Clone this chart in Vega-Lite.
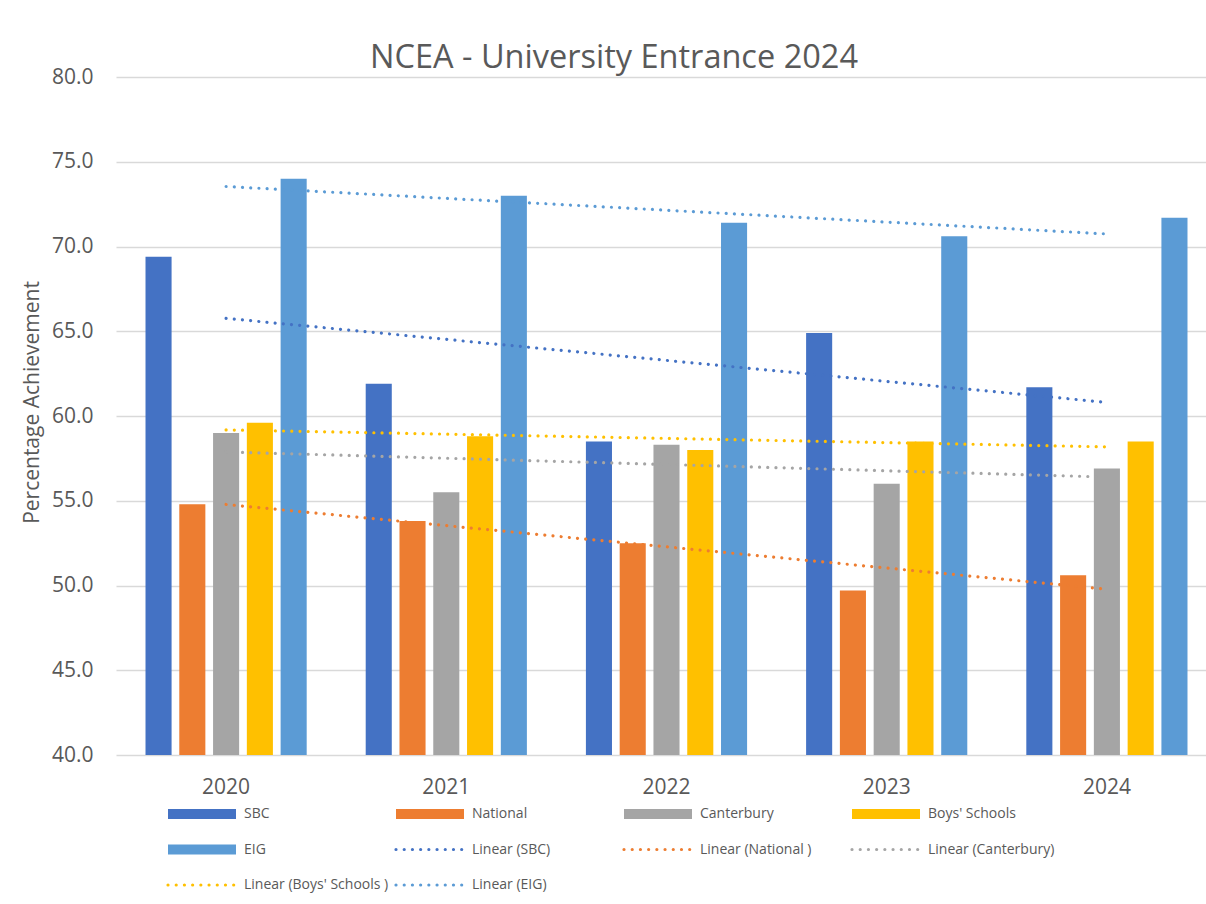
{
  "$schema": "https://vega.github.io/schema/vega-lite/v6.json",
  "width": 1090,
  "height": 678,
  "autosize": {"type": "none"},
  "padding": {"left": 116, "top": 77, "right": 0, "bottom": 149},
  "background": "white",
  "config": {
    "view": {"stroke": null},
    "font": "Open Sans",
    "axis": {"labelFont": "Open Sans", "titleFont": "Open Sans", "labelColor": "#595959", "titleColor": "#595959"}
  },
  "title": {
    "text": "NCEA - University Entrance 2024",
    "font": "Open Sans",
    "fontSize": 32.5,
    "fontWeight": "normal",
    "color": "#595959",
    "anchor": "middle",
    "baseline": "alphabetic",
    "offset": 8,
    "dx": -47,
    "dy": 42
  },
  "data": {
    "values": [
      {"year": 2020, "series": "SBC", "trend": "Linear (SBC)", "value": 69.4},
      {"year": 2020, "series": "National", "trend": "Linear (National )", "value": 54.8},
      {"year": 2020, "series": "Canterbury", "trend": "Linear (Canterbury)", "value": 59.0},
      {"year": 2020, "series": "Boys' Schools", "trend": "Linear (Boys' Schools )", "value": 59.6},
      {"year": 2020, "series": "EIG", "trend": "Linear (EIG)", "value": 74.0},
      {"year": 2021, "series": "SBC", "trend": "Linear (SBC)", "value": 61.9},
      {"year": 2021, "series": "National", "trend": "Linear (National )", "value": 53.8},
      {"year": 2021, "series": "Canterbury", "trend": "Linear (Canterbury)", "value": 55.5},
      {"year": 2021, "series": "Boys' Schools", "trend": "Linear (Boys' Schools )", "value": 58.8},
      {"year": 2021, "series": "EIG", "trend": "Linear (EIG)", "value": 73.0},
      {"year": 2022, "series": "SBC", "trend": "Linear (SBC)", "value": 58.5},
      {"year": 2022, "series": "National", "trend": "Linear (National )", "value": 52.5},
      {"year": 2022, "series": "Canterbury", "trend": "Linear (Canterbury)", "value": 58.3},
      {"year": 2022, "series": "Boys' Schools", "trend": "Linear (Boys' Schools )", "value": 58.0},
      {"year": 2022, "series": "EIG", "trend": "Linear (EIG)", "value": 71.4},
      {"year": 2023, "series": "SBC", "trend": "Linear (SBC)", "value": 64.9},
      {"year": 2023, "series": "National", "trend": "Linear (National )", "value": 49.7},
      {"year": 2023, "series": "Canterbury", "trend": "Linear (Canterbury)", "value": 56.0},
      {"year": 2023, "series": "Boys' Schools", "trend": "Linear (Boys' Schools )", "value": 58.5},
      {"year": 2023, "series": "EIG", "trend": "Linear (EIG)", "value": 70.6},
      {"year": 2024, "series": "SBC", "trend": "Linear (SBC)", "value": 61.7},
      {"year": 2024, "series": "National", "trend": "Linear (National )", "value": 50.6},
      {"year": 2024, "series": "Canterbury", "trend": "Linear (Canterbury)", "value": 56.9},
      {"year": 2024, "series": "Boys' Schools", "trend": "Linear (Boys' Schools )", "value": 58.5},
      {"year": 2024, "series": "EIG", "trend": "Linear (EIG)", "value": 71.7}
    ]
  },
  "layer": [
    {
      "mark": {"type": "bar", "clip": true},
      "encoding": {
        "x": {
          "field": "year", "type": "ordinal",
          "scale": {"range": [0, 1101], "paddingInner": 0.268, "paddingOuter": 0.134},
          "axis": {"title": null, "labelAngle": 0, "labelFontSize": 21, "labelPadding": 21, "ticks": false, "domain": false, "grid": false}
        },
        "xOffset": {
          "field": "series", "type": "nominal",
          "sort": ["SBC", "National", "Canterbury", "Boys' Schools", "EIG"],
          "scale": {"paddingInner": 0.228, "paddingOuter": 0}
        },
        "y": {
          "field": "value", "type": "quantitative",
          "scale": {"domain": [40, 80], "zero": false, "nice": false},
          "axis": {
            "title": "Percentage Achievement", "titleFontSize": 21, "titleFontWeight": "normal",
            "titleX": -78, "titleY": 325, "titleBaseline": "alphabetic", "titleAlign": "center", "titleAngle": -90,
            "values": [40, 45, 50, 55, 60, 65, 70, 75, 80], "format": ".1f",
            "labelFontSize": 21, "labelPadding": 23, "ticks": false, "domain": false,
            "gridColor": "#D9D9D9", "gridWidth": 1.3
          }
        },
        "color": {
          "field": "series", "type": "nominal",
          "scale": {
            "domain": ["SBC", "National", "Canterbury", "Boys' Schools", "EIG", "Linear (SBC)", "Linear (National )", "Linear (Canterbury)", "Linear (Boys' Schools )", "Linear (EIG)"],
            "range": ["#4472C4", "#ED7D31", "#A5A5A5", "#FFC000", "#5B9BD5", "#4472C4", "#ED7D31", "#A5A5A5", "#FFC000", "#5B9BD5"]
          },
          "legend": {
            "title": null,
            "orient": "none",
            "legendX": 74,
            "legendY": 725,
            "direction": "horizontal",
            "columns": 4,
            "gridAlign": "all",
            "columnPadding": 0,
            "rowPadding": 16.5,
            "symbolSize": 400,
            "labelFont": "Open Sans",
            "labelFontSize": 14,
            "labelColor": "#595959",
            "labelOffset": 30,
            "labelLimit": 300,
            "encode": {
              "symbols": {
                "update": {
                  "shape": {"signal": "indexof(datum.label, 'Linear') === 0 ? 'M-3.4,0H3.4' : 'M-3.4,-0.5H3.4V0.5H-3.4Z'"},
                  "fill": {"signal": "indexof(datum.label, 'Linear') === 0 ? 'transparent' : scale('color', datum.value)"},
                  "stroke": {"signal": "scale('color', datum.value)"},
                  "strokeOpacity": {"signal": "indexof(datum.label, 'Linear') === 0 ? 1 : 0"},
                  "strokeWidth": {"value": 3.2},
                  "strokeDash": {"value": [0.01, 8.2]},
                  "strokeCap": {"value": "round"},
                  "size": {"value": 400},
                  "opacity": {"value": 1}
                }
              }
            }
          }
        }
      }
    },
    {
      "transform": [
        {"regression": "value", "on": "year", "groupby": ["trend"], "method": "linear"}
      ],
      "mark": {"type": "line", "strokeDash": [0.01, 8.2], "strokeCap": "round", "strokeWidth": 3.2},
      "encoding": {
        "x": {"field": "year", "type": "ordinal"},
        "y": {"field": "value", "type": "quantitative"},
        "color": {"field": "trend", "type": "nominal"}
      }
    }
  ]
}
